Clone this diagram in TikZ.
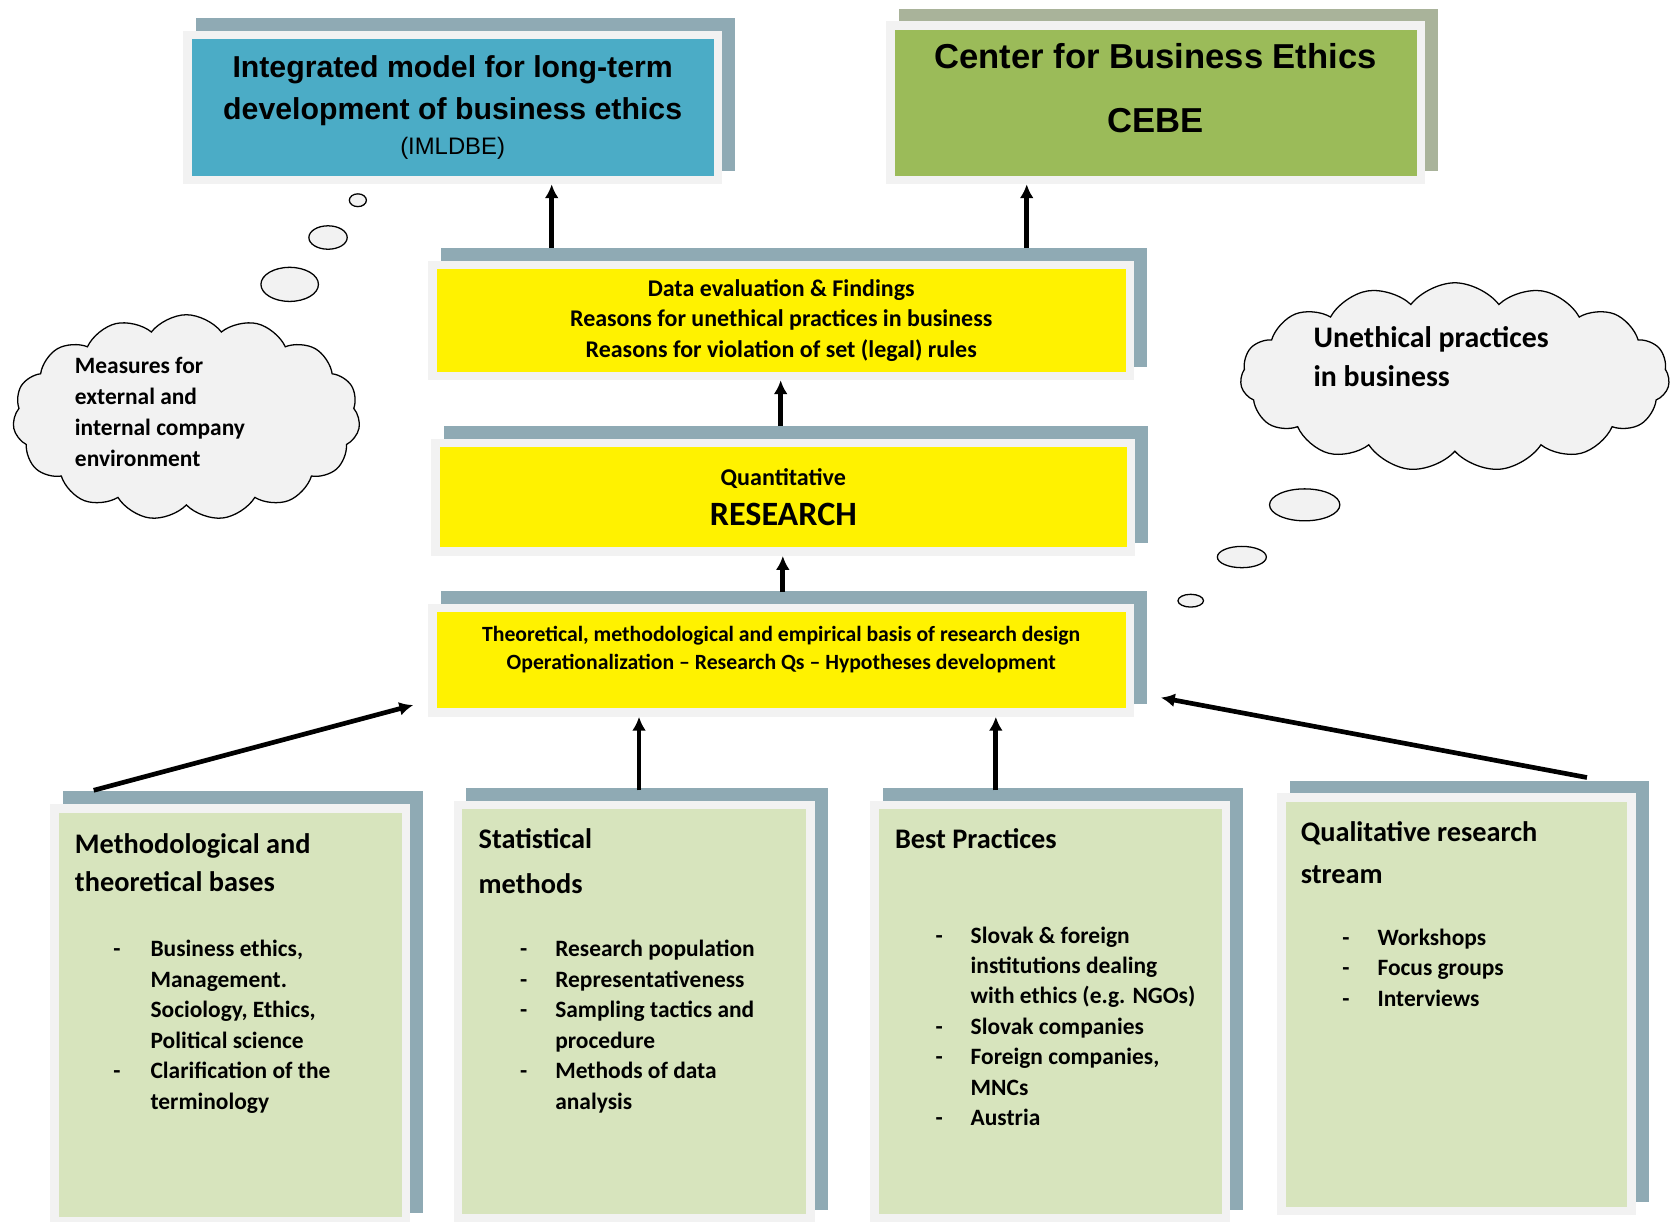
\documentclass[tikz,border=0pt]{standalone}
\usepackage{fontspec}
\setmainfont{Carlito}
\newfontfamily\arialfont{Liberation Sans}
\usepackage{tikz}
\usetikzlibrary{shapes.symbols, shadows, arrows.meta}
\definecolor{shadowblue}{HTML}{8FAAB4}
\definecolor{shadowgreen}{HTML}{A9B39A}
\definecolor{framegrey}{HTML}{F2F2F2}
\definecolor{modelblue}{HTML}{4BACC6}
\definecolor{centergreen}{HTML}{9BBB59}
\definecolor{paleolive}{HTML}{D7E4BD}
\tikzset{
    panel/.style={draw=framegrey, line width=4pt, inner sep=0pt, align=center,
        general shadow={fill=#1, draw=#1, line width=4pt, shadow xshift=6pt, shadow yshift=6pt}},
    panel/.default=shadowblue,
    flow/.style={line width=2.2pt, -{Latex[length=6.5pt, width=6.5pt]}},
    thought/.style={cloud, cloud puffs=15, cloud puff arc=105, cloud ignores aspect, draw=black, fill=framegrey, line width=0.6pt},
    bubble/.style={draw=black, fill=framegrey, line width=0.6pt},
    boxtitle/.style={anchor=north west, align=left, inner sep=0pt},
    itemlist/.style={anchor=north west, inner sep=0pt, font=\bfseries\fontsize{11}{14.3}\selectfont}}

\begin{document}
\begin{tikzpicture}[x=0.5pt, y=-0.5pt]
    \useasboundingbox (0,0) rectangle (1568,1147);

    % top row
    \node[panel, fill=modelblue, minimum width=249pt, minimum height=68pt,
        font=\arialfont\bfseries\fontsize{14.2}{20}\selectfont] (imldbe) at (425,101)
        {Integrated model for long-term\\development of business ethics\\[-3.5pt]{\mdseries\fontsize{11.2}{14}\selectfont (IMLDBE)}};
    \node[panel=shadowgreen, fill=centergreen, minimum width=249pt, minimum height=72.5pt] (cebe) at (1085,96.5) {};
    \node[font=\arialfont\bfseries\fontsize{16.25}{30}\selectfont, align=center] (cebetext) at (1085,83)
        {Center for Business Ethics\\CEBE};

    % middle column
    \node[panel, fill=yellow, minimum width=327.5pt, minimum height=52pt,
        font=\bfseries\fontsize{11.25}{14.5}\selectfont] (data) at (733.5,301)
        {Data evaluation \& Findings\\Reasons for unethical practices in business\\Reasons for violation of set (legal) rules};
    \node[panel, fill=yellow, minimum width=326.5pt, minimum height=51pt,
        font=\bfseries\fontsize{11.3}{19}\selectfont] (research) at (735.5,467)
        {Quantitative\\{\fontsize{16}{19}\selectfont RESEARCH}};
    \node[panel, fill=yellow, minimum width=327.5pt, minimum height=49pt] (theory) at (733.5,620) {};
    \node[font=\bfseries\fontsize{10.2}{13}\selectfont, align=center] (theorytext) at (733.5,610)
        {Theoretical, methodological and empirical basis of research design\\Operationalization – Research Qs – Hypotheses development};

    % bottom row
    \node[panel, fill=paleolive, minimum width=165pt, minimum height=194pt] (meth) at (216,953) {};
    \node[panel, fill=paleolive, minimum width=165.5pt, minimum height=194pt] (stat) at (595.5,950) {};
    \node[panel, fill=paleolive, minimum width=165pt, minimum height=194pt] (best) at (986,950) {};
    \node[panel, fill=paleolive, minimum width=164.5pt, minimum height=194pt] (qual) at (1367.5,943) {};

    \node[boxtitle, font=\bfseries\fontsize{13.3}{18}\selectfont] (methtitle) at (70,782) {Methodological and\\theoretical bases};
    \node[boxtitle, font=\bfseries\fontsize{13.3}{21}\selectfont] (stattitle) at (449,778) {Statistical\\methods};
    \node[boxtitle, font=\bfseries\fontsize{13.3}{18}\selectfont] (besttitle) at (840,778) {Best Practices};
    \node[boxtitle, font=\bfseries\fontsize{13.3}{19.5}\selectfont] (qualtitle) at (1221,771) {Qualitative research\\stream};

    \node[itemlist] (methitems) at (106,878) {\begin{tabular}{@{}p{17.5pt}@{}l@{}}
        - & Business ethics,\\ & Management.\\ & Sociology, Ethics,\\ & Political science\\
        - & Clarification of the\\ & terminology\end{tabular}};
    \node[itemlist] (statitems) at (488,878) {\begin{tabular}{@{}p{16.5pt}@{}l@{}}
        - & Research population\\ - & Representativeness\\ - & Sampling tactics and\\ & procedure\\
        - & Methods of data\\ & analysis\end{tabular}};
    \node[itemlist] (bestitems) at (878,865) {\begin{tabular}{@{}p{16.5pt}@{}l@{}}
        - & Slovak \& foreign\\ & institutions dealing\\ & with ethics (e.g. NGOs)\\
        - & Slovak companies\\ - & Foreign companies,\\ & MNCs\\ - & Austria\end{tabular}};
    \node[itemlist] (qualitems) at (1260,867) {\begin{tabular}{@{}p{16.5pt}@{}l@{}}
        - & Workshops\\ - & Focus groups\\ - & Interviews\end{tabular}};

    % thought clouds
    \node[thought, minimum width=163pt, minimum height=96.5pt] (measures) at (175,392) {};
    \node[thought, minimum width=201.5pt, minimum height=88.5pt] (unethical) at (1366,354) {};
    \node[boxtitle, font=\bfseries\fontsize{11}{14.5}\selectfont] (measurestext) at (70,335)
        {Measures for\\external and\\internal company\\environment};
    \node[boxtitle, font=\bfseries\fontsize{14}{18.5}\selectfont] (unethicaltext) at (1233,306)
        {Unethical practices\\in business};
    \foreach \cx/\cy/\rx/\ry in {272/267/27/16, 308/223/18/11, 336/188/8/6, 1225/474/33/15, 1166/523/23/10, 1118/564/12/6}
        \draw[bubble] (\cx,\cy) ellipse [x radius=\rx, y radius=\ry];

    % arrows
    \draw[flow] (data.north) ++(-215.5,-12) coordinate (d1) -- (d1 |- imldbe.south);
    \draw[flow] (data.north) ++(230.5,-12) coordinate (d2) -- (d2 |- cebe.south);
    \draw[flow] (research.north) ++(-2.5,-12) coordinate (r1) -- (r1 |- data.south);
    \draw[flow] (theory.north) ++(1.5,-11) coordinate (t0) -- (t0 |- research.south);
    \draw[flow] (stat.north) ++(4.5,-10) coordinate (s1) -- (s1 |- theory.south);
    \draw[flow] (best.north) ++(-51,-10) coordinate (b1) -- (b1 |- theory.south);
    \coordinate (tl) at ([shift={(-14,-11)}]theory.south west);
    \coordinate (tr) at ([shift={(25,-18)}]theory.south east);
    \draw[flow] (meth.north west) ++(41,-13) -- (tl);
    \draw[flow] (qual.north east) ++(-46,-15) -- (tr);

\end{tikzpicture}
\end{document}
